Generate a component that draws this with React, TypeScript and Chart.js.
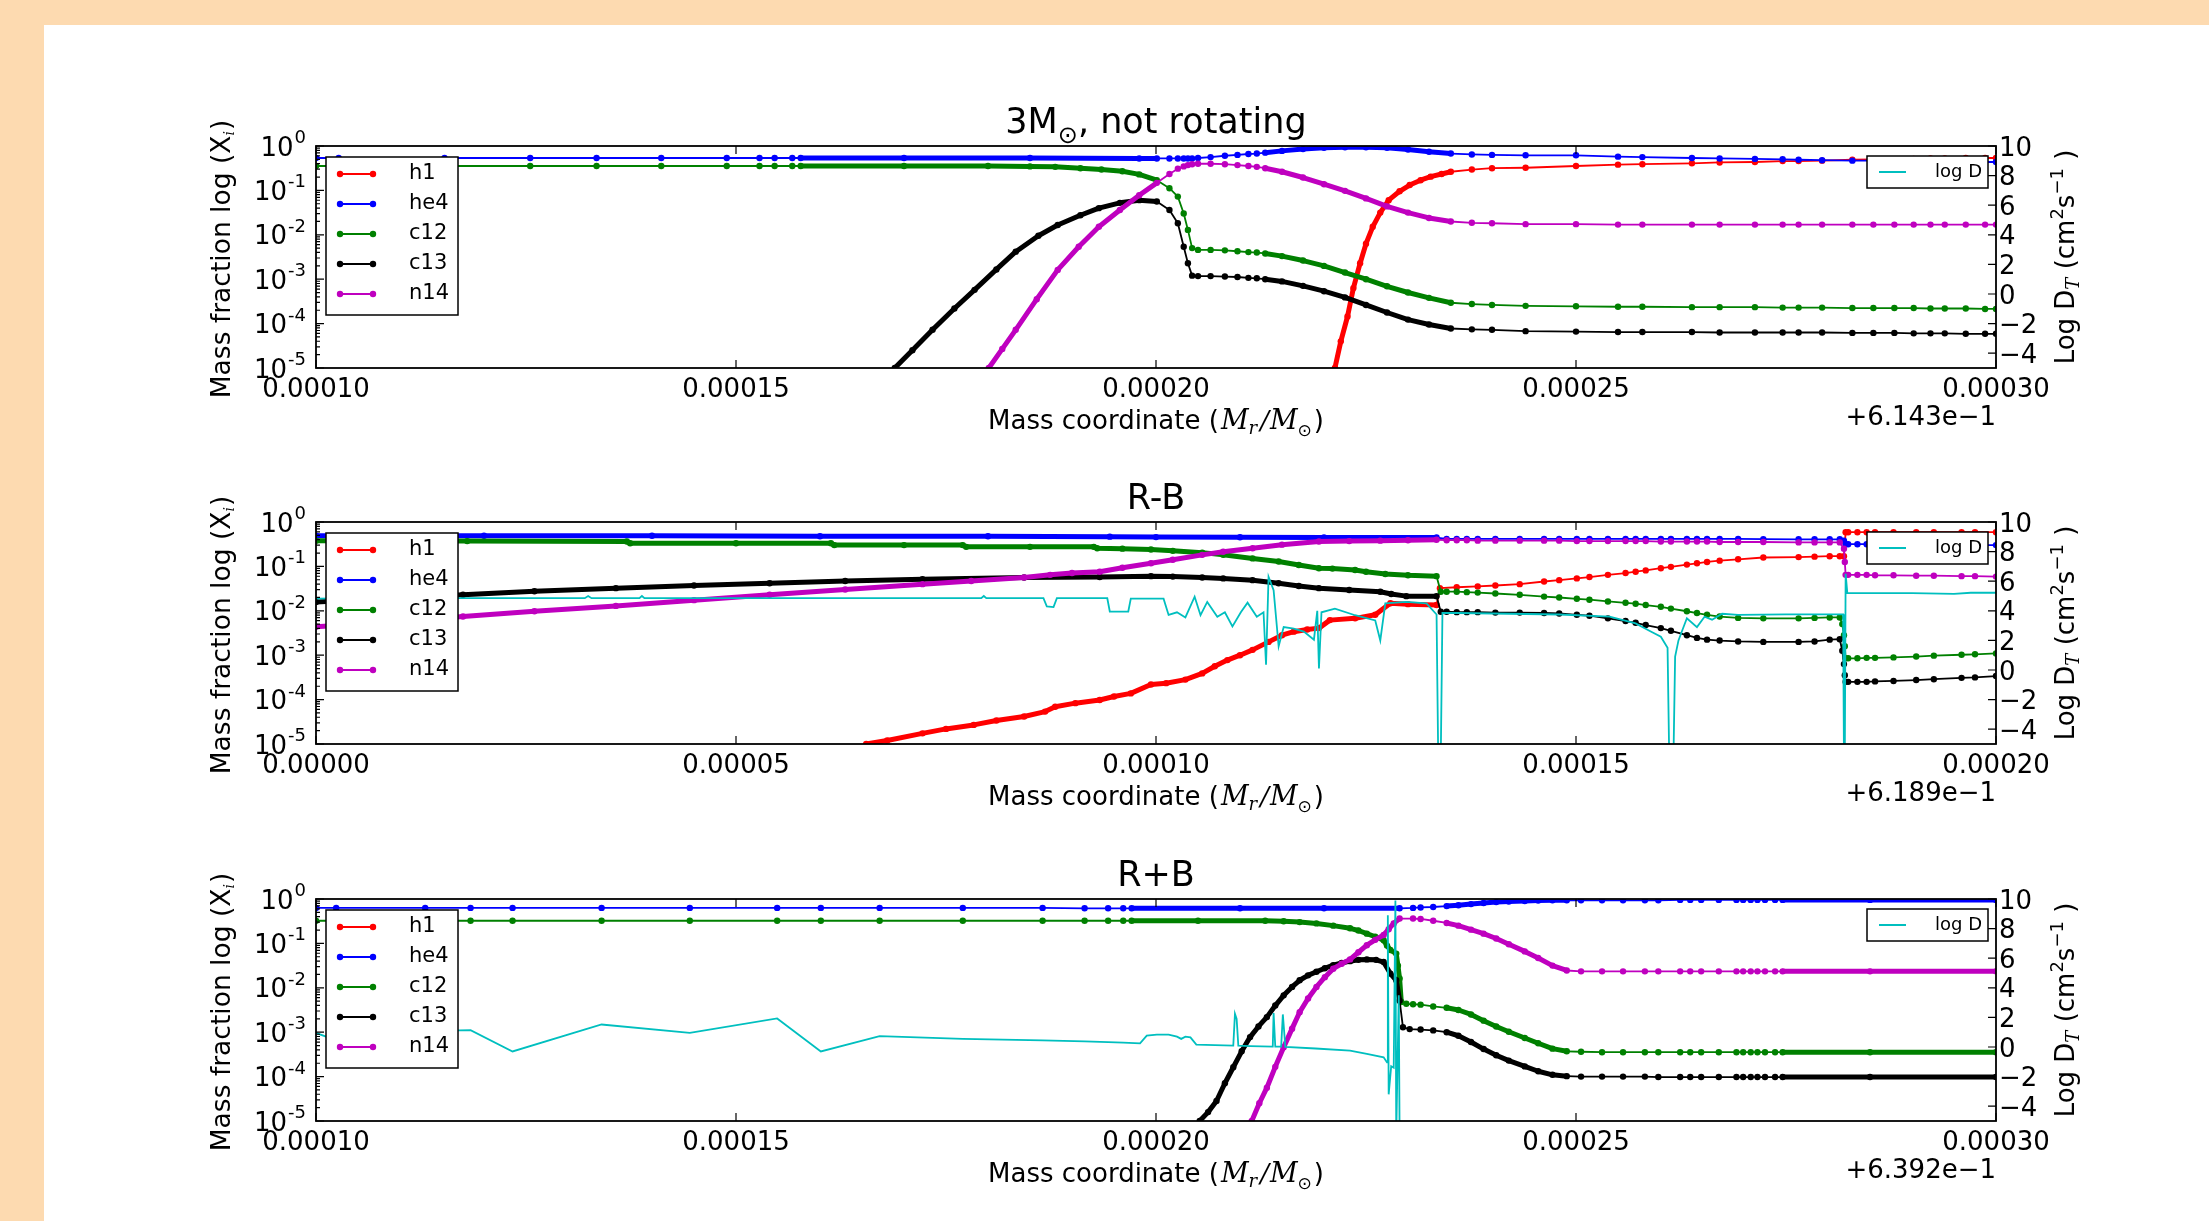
import React, { useEffect, useRef } from "react";
import { Chart, registerables } from "chart.js";

Chart.register(...registerables);

type P = [number, number];

// ---------- labels / text ----------
const SPECIES = ["h1", "he4", "c12", "c13", "n14"];
const SPECIES_COLORS = ["#ff0000", "#0000ff", "#008000", "#000000", "#bf00bf"];
const LOGD_LABEL = "log D";
const LOGD_COLOR = "#00bfbf";
const TITLES: string[][] = [["3M", "\u2299", ", not rotating"], ["R-B"], ["R+B"]];
const OFFSETS = ["+6.143e\u22121", "+6.189e\u22121", "+6.392e\u22121"];
const X_TICKS_1 = [100, 150, 200, 250, 300];
const X_TICK_LABELS_1 = ["0.00010", "0.00015", "0.00020", "0.00025", "0.00030"];
const X_TICKS_2 = [0, 50, 100, 150, 200];
const X_TICK_LABELS_2 = ["0.00000", "0.00005", "0.00010", "0.00015", "0.00020"];
const X_TICKS_3 = [100, 150, 200, 250, 300];
const X_TICK_LABELS_3 = ["0.00010", "0.00015", "0.00020", "0.00025", "0.00030"];
const LEFT_TICK_EXPS = [0, -1, -2, -3, -4, -5];
const RIGHT_TICKS = [-4, -2, 0, 2, 4, 6, 8, 10];

// ---------- data: x in 1e-6 Msun (offset), y = log10 mass fraction ----------
const P1_H1: P[] = [[221.3,-5],[222,-4.4],[222.8,-3.84],[223.5,-3.2],[224.3,-2.64],[225,-2.2],[225.8,-1.82],[226.7,-1.5],[227.7,-1.22],[229,-1.02],[230.2,-0.88],[231.5,-0.77],[232.7,-0.69],[234,-0.63],[235.1,-0.58],[237.6,-0.53],[240,-0.5],[244,-0.49],[250,-0.45],[255,-0.42],[257.9,-0.41],[263.8,-0.39],[267.1,-0.37],[271.3,-0.36],[274.6,-0.34],[276.5,-0.34],[279.3,-0.33],[282.9,-0.31],[285.4,-0.3],[287.9,-0.3],[290.2,-0.29],[292.2,-0.28],[293.9,-0.28],[296.4,-0.27],[298.7,-0.27],[300,-0.27]];
const P1_HE4: P[] = [[100,-0.27],[102.7,-0.27],[115.3,-0.27],[125.5,-0.27],[133.4,-0.27],[141.1,-0.27],[148.9,-0.27],[152.8,-0.27],[154.6,-0.27],[156.7,-0.27],[157.7,-0.27],[170,-0.27],[185,-0.27],[198,-0.28],[200.1,-0.28],[201.6,-0.28],[202.6,-0.28],[203.3,-0.28],[203.8,-0.28],[204.3,-0.28],[205,-0.27],[206.5,-0.25],[208.2,-0.22],[209.7,-0.2],[211,-0.18],[212,-0.17],[213,-0.15],[215,-0.11],[217.5,-0.07],[220,-0.04],[222.5,-0.03],[225,-0.03],[227.5,-0.04],[230,-0.08],[232.5,-0.13],[235.1,-0.17],[237.6,-0.19],[240,-0.2],[244,-0.21],[250,-0.21],[255,-0.24],[257.9,-0.25],[263.8,-0.27],[267.1,-0.28],[271.3,-0.29],[274.6,-0.3],[276.5,-0.31],[279.3,-0.32],[282.9,-0.33],[285.4,-0.33],[287.9,-0.34],[290.2,-0.34],[292.2,-0.35],[293.9,-0.35],[296.4,-0.36],[298.7,-0.36],[300,-0.36]];
const P1_C12: P[] = [[100,-0.45],[102.7,-0.45],[115.3,-0.45],[125.5,-0.45],[133.4,-0.45],[141.1,-0.45],[148.9,-0.45],[152.8,-0.45],[154.6,-0.45],[156.7,-0.45],[157.7,-0.45],[170,-0.45],[180,-0.45],[185,-0.46],[188,-0.47],[191,-0.5],[193.5,-0.53],[196,-0.57],[198,-0.64],[200.1,-0.77],[201.6,-0.95],[202.6,-1.14],[203.3,-1.52],[203.8,-1.89],[204.3,-2.3],[205,-2.34],[206.5,-2.34],[208.2,-2.35],[209.7,-2.37],[211,-2.39],[212,-2.4],[213,-2.42],[215,-2.48],[217.5,-2.58],[220,-2.7],[222.5,-2.85],[225,-3.0],[227.5,-3.16],[230,-3.3],[232.5,-3.42],[235.1,-3.53],[237.6,-3.56],[240,-3.58],[244,-3.6],[250,-3.61],[255,-3.62],[257.9,-3.62],[263.8,-3.63],[267.1,-3.63],[271.3,-3.63],[274.6,-3.64],[276.5,-3.64],[279.3,-3.64],[282.9,-3.65],[285.4,-3.65],[287.9,-3.65],[290.2,-3.65],[292.2,-3.66],[293.9,-3.66],[296.4,-3.66],[298.7,-3.67],[300,-3.67]];
const P1_C13: P[] = [[168.9,-5],[171,-4.6],[173.4,-4.14],[176,-3.66],[178.4,-3.24],[181,-2.78],[183.3,-2.38],[186,-2.02],[188.3,-1.78],[191,-1.56],[193.2,-1.4],[195.7,-1.28],[198,-1.22],[200.1,-1.25],[201.6,-1.44],[202.6,-1.74],[203.3,-2.27],[203.8,-2.64],[204.3,-2.92],[205,-2.93],[206.5,-2.93],[208.2,-2.94],[209.7,-2.95],[211,-2.97],[212,-2.98],[213,-3.0],[215,-3.05],[217.5,-3.15],[220,-3.27],[222.5,-3.41],[225,-3.58],[227.5,-3.75],[230,-3.91],[232.5,-4.02],[235.1,-4.11],[237.6,-4.13],[240,-4.14],[244,-4.17],[250,-4.18],[255,-4.19],[257.9,-4.19],[263.8,-4.19],[267.1,-4.2],[271.3,-4.2],[274.6,-4.2],[276.5,-4.2],[279.3,-4.2],[282.9,-4.21],[285.4,-4.21],[287.9,-4.21],[290.2,-4.22],[292.2,-4.22],[293.9,-4.22],[296.4,-4.23],[298.7,-4.23],[300,-4.23]];
const P1_N14: P[] = [[180.1,-5],[181.7,-4.57],[183.3,-4.14],[185.8,-3.45],[188.3,-2.79],[190.8,-2.27],[193.2,-1.82],[195.7,-1.44],[198,-1.11],[200.1,-0.83],[201.6,-0.63],[202.6,-0.51],[203.3,-0.46],[203.8,-0.43],[204.3,-0.41],[205,-0.4],[206.5,-0.4],[208.2,-0.41],[209.7,-0.43],[211,-0.45],[212,-0.47],[213,-0.5],[215,-0.58],[217.5,-0.71],[220,-0.86],[222.5,-1.01],[225,-1.18],[227.5,-1.36],[230,-1.5],[232.5,-1.62],[235.1,-1.7],[237.6,-1.73],[240,-1.74],[244,-1.76],[250,-1.76],[255,-1.77],[257.9,-1.77],[263.8,-1.77],[267.1,-1.77],[271.3,-1.77],[274.6,-1.77],[276.5,-1.77],[279.3,-1.77],[282.9,-1.77],[285.4,-1.77],[287.9,-1.77],[290.2,-1.77],[292.2,-1.77],[293.9,-1.77],[296.4,-1.77],[298.7,-1.77],[300,-1.77]];
const P1_LOGD: P[] = [];

const P2_H1: P[] = [[65.5,-5.0],[68,-4.92],[72.2,-4.76],[75,-4.66],[78.3,-4.57],[81,-4.47],[84.3,-4.38],[86.8,-4.27],[88,-4.16],[90.4,-4.08],[93.3,-4.01],[95,-3.93],[97,-3.86],[99.4,-3.66],[101.2,-3.63],[103.5,-3.55],[105.5,-3.41],[107,-3.25],[108.5,-3.11],[110,-3.0],[111.5,-2.88],[113.4,-2.7],[115,-2.55],[116.4,-2.47],[118,-2.42],[119.4,-2.39],[120.7,-2.21],[123.7,-2.17],[126.1,-2.09],[127.9,-1.83],[130,-1.85],[133.4,-1.87],[133.8,-1.49],[135.8,-1.47],[138.3,-1.45],[140.4,-1.43],[143.3,-1.4],[146.2,-1.34],[148,-1.31],[150.1,-1.27],[151.6,-1.24],[153.8,-1.19],[155.9,-1.15],[157.1,-1.12],[158.3,-1.09],[160.1,-1.04],[161.3,-1.01],[163.2,-0.96],[164.4,-0.93],[165.6,-0.9],[167.1,-0.87],[169.3,-0.84],[172.3,-0.8],[176.5,-0.79],[178.4,-0.78],[180.2,-0.77],[181.4,-0.77],[181.9,-0.77],[182.1,-0.23],[182.4,-0.23],[183.5,-0.23],[184.6,-0.23],[185.6,-0.23],[187.8,-0.23],[190.5,-0.23],[192.6,-0.23],[195.9,-0.23],[197.5,-0.23],[200,-0.23]];
const P2_HE4: P[] = [[0,-0.31],[20,-0.31],[40,-0.31],[60,-0.32],[80,-0.32],[94.5,-0.33],[100,-0.34],[110,-0.345],[120,-0.35],[133.4,-0.35],[134.6,-0.38],[135.8,-0.38],[137,-0.38],[138.3,-0.38],[140.4,-0.38],[143.3,-0.38],[146.2,-0.38],[148,-0.38],[150.1,-0.38],[151.6,-0.38],[153.8,-0.38],[155.9,-0.38],[157.1,-0.38],[158.3,-0.38],[160.1,-0.38],[161.3,-0.38],[163.2,-0.38],[164.4,-0.38],[165.6,-0.38],[167.1,-0.38],[169.3,-0.38],[172.3,-0.385],[176.5,-0.39],[178.4,-0.39],[180.2,-0.39],[181.4,-0.39],[181.9,-0.42],[182.1,-0.5],[182.4,-0.5],[183.5,-0.5],[184.6,-0.5],[185.6,-0.5],[187.8,-0.51],[190.5,-0.51],[192.6,-0.51],[195.9,-0.52],[197.5,-0.52],[200,-0.52]];
const P2_C12: P[] = [[0,-0.42],[18,-0.43],[37,-0.44],[37.4,-0.48],[50,-0.48],[61.3,-0.48],[61.7,-0.52],[70,-0.52],[77,-0.52],[77.4,-0.56],[85,-0.56],[92.6,-0.56],[93,-0.59],[96,-0.6],[99.4,-0.62],[102,-0.65],[105.5,-0.69],[108,-0.74],[111.5,-0.82],[114.6,-0.89],[117,-0.97],[119.4,-1.04],[121,-1.05],[123.7,-1.08],[125,-1.12],[127.3,-1.17],[130,-1.2],[133.4,-1.22],[133.9,-1.57],[134.6,-1.57],[135.8,-1.57],[137,-1.58],[138.3,-1.59],[140.4,-1.61],[143.3,-1.64],[146.2,-1.68],[148,-1.7],[150.1,-1.73],[151.6,-1.75],[153.8,-1.79],[155.9,-1.82],[157.1,-1.84],[158.3,-1.87],[160.1,-1.91],[161.3,-1.95],[163.2,-2.01],[164.4,-2.05],[165.6,-2.09],[167.1,-2.13],[169.3,-2.16],[172.3,-2.17],[176.5,-2.17],[178.4,-2.16],[180.2,-2.15],[181.4,-2.15],[181.7,-2.3],[181.9,-2.55],[182.0,-2.8],[182.1,-3.07],[182.4,-3.07],[183.5,-3.07],[184.6,-3.06],[185.6,-3.06],[187.8,-3.05],[190.5,-3.03],[192.6,-3.01],[195.9,-2.99],[197.5,-2.98],[200,-2.96]];
const P2_C13: P[] = [[0,-1.8],[9,-1.72],[17.5,-1.64],[26,-1.56],[35.7,-1.49],[45,-1.43],[54,-1.38],[63,-1.33],[72.2,-1.29],[84.3,-1.25],[93.3,-1.24],[99.4,-1.22],[102,-1.23],[105.5,-1.25],[108,-1.27],[111.5,-1.31],[114.6,-1.38],[117,-1.44],[119.4,-1.49],[123,-1.53],[126.7,-1.57],[128,-1.62],[129.8,-1.67],[133.4,-1.67],[133.9,-2.02],[134.6,-2.02],[135.8,-2.03],[137,-2.03],[138.3,-2.03],[140.4,-2.04],[143.3,-2.04],[146.2,-2.05],[148,-2.06],[150.1,-2.09],[151.6,-2.11],[153.8,-2.17],[155.9,-2.23],[157.1,-2.27],[158.3,-2.32],[160.1,-2.39],[161.3,-2.45],[163.2,-2.55],[164.4,-2.61],[165.6,-2.65],[167.1,-2.67],[169.3,-2.69],[172.3,-2.7],[176.5,-2.7],[178.4,-2.69],[180.2,-2.65],[181.4,-2.64],[181.7,-2.9],[181.9,-3.2],[182.0,-3.45],[182.1,-3.6],[182.4,-3.6],[183.5,-3.6],[184.6,-3.6],[185.6,-3.59],[187.8,-3.58],[190.5,-3.56],[192.6,-3.54],[195.9,-3.51],[197.5,-3.5],[200,-3.47]];
const P2_N14: P[] = [[0,-2.36],[9,-2.25],[17.5,-2.13],[26,-2.01],[35.7,-1.89],[45,-1.76],[54,-1.64],[63,-1.52],[72.2,-1.4],[78,-1.33],[84.3,-1.25],[87.4,-1.19],[90,-1.15],[93.3,-1.12],[96,-1.03],[99.4,-0.93],[102,-0.85],[105.5,-0.74],[108,-0.67],[111.5,-0.59],[115,-0.51],[119.4,-0.44],[123,-0.43],[126.7,-0.42],[130,-0.41],[133.4,-0.4],[134.6,-0.41],[135.8,-0.41],[137,-0.41],[138.3,-0.42],[140.4,-0.42],[143.3,-0.42],[146.2,-0.42],[148,-0.42],[150.1,-0.43],[151.6,-0.43],[153.8,-0.43],[155.9,-0.43],[157.1,-0.43],[158.3,-0.43],[160.1,-0.44],[161.3,-0.44],[163.2,-0.44],[164.4,-0.44],[165.6,-0.44],[167.1,-0.45],[169.3,-0.45],[172.3,-0.45],[176.5,-0.46],[178.4,-0.46],[180.2,-0.46],[181.4,-0.46],[181.9,-0.6],[182.0,-0.9],[182.1,-1.19],[182.4,-1.19],[183.5,-1.19],[184.6,-1.19],[185.6,-1.2],[187.8,-1.2],[190.5,-1.21],[192.6,-1.21],[195.9,-1.22],[197.5,-1.22],[200,-1.23]];
// log D (right axis, log10 cm^2/s)
const P2_LOGD: P[] = [[0,4.82],[6.2,4.85],[6.6,5.05],[7.1,4.85],[32,4.85],[32.4,5.0],[32.8,4.85],[38.5,4.85],[38.8,5.0],[39.1,4.85],[79.2,4.85],[79.5,5.0],[79.8,4.85],[86.6,4.85],[87,4.3],[87.8,4.25],[88.2,4.85],[94.2,4.85],[94.5,3.95],[96.7,3.95],[97,4.82],[100.9,4.82],[101.5,3.72],[102.5,3.9],[103.5,3.55],[104.6,4.95],[105.3,3.7],[106.1,4.6],[107.3,3.6],[108.2,3.9],[109.1,2.95],[110.1,3.9],[110.9,4.55],[112,3.6],[112.8,3.9],[113.1,0.35],[113.4,6.3],[114,5.4],[114.6,1.6],[115.2,2.9],[116.4,2.8],[117.6,2.6],[118.8,2.05],[119.2,4.0],[119.4,0.1],[119.7,3.9],[121.3,4.15],[123.7,3.7],[126.1,3.35],[126.7,2.0],[127.3,4.5],[129.8,4.6],[132.2,4.5],[133.4,3.75],[133.6,-6],[133.9,-6],[134.1,3.85],[136,3.85],[142,3.8],[148,3.75],[154,3.6],[157.1,3.15],[158.9,2.6],[160.1,2.25],[160.9,1.5],[161.1,-6],[161.6,-6],[161.8,0.9],[162.2,2.0],[162.6,2.6],[163.2,3.5],[164.4,2.9],[165.3,3.6],[166.2,3.4],[167.4,3.8],[169.3,3.72],[175,3.76],[181.8,3.76],[181.9,-6],[182.0,-6],[182.1,6.5],[182.3,5.2],[190,5.2],[195,5.15],[197,5.22],[200,5.22]];

const P3_H1: P[] = [];
const P3_HE4: P[] = [[100,-0.2],[102.4,-0.2],[113,-0.2],[118.4,-0.2],[123.4,-0.2],[134,-0.2],[144.5,-0.2],[154.9,-0.2],[160.1,-0.2],[167.1,-0.2],[177,-0.2],[186.5,-0.2],[191.5,-0.21],[194.3,-0.21],[196.1,-0.21],[197.1,-0.21],[210,-0.21],[220,-0.21],[229,-0.21],[230.6,-0.2],[231.5,-0.19],[233,-0.18],[234.6,-0.16],[236,-0.14],[237.5,-0.115],[239,-0.09],[240.5,-0.07],[242,-0.055],[243.9,-0.045],[245.5,-0.035],[247.2,-0.03],[248.9,-0.03],[250.6,-0.03],[253.1,-0.03],[255.6,-0.03],[258.2,-0.03],[259.8,-0.03],[262.4,-0.02],[263.6,-0.02],[264.9,-0.02],[267,-0.02],[269.1,-0.02],[269.9,-0.02],[270.8,-0.02],[271.6,-0.02],[272.5,-0.02],[273.7,-0.02],[274.6,-0.02],[285,-0.02],[300,-0.02]];
const P3_C12: P[] = [[100,-0.49],[102.4,-0.49],[113,-0.49],[118.4,-0.49],[123.4,-0.49],[134,-0.49],[144.5,-0.49],[154.9,-0.49],[160.1,-0.49],[167.1,-0.49],[177,-0.49],[186.5,-0.49],[191.5,-0.49],[194.3,-0.49],[196.1,-0.49],[197.1,-0.49],[205,-0.49],[213,-0.49],[215.2,-0.5],[217.1,-0.52],[219.1,-0.55],[221.1,-0.6],[223.1,-0.66],[224.1,-0.71],[225.1,-0.78],[226.1,-0.85],[227.1,-0.93],[227.5,-1.05],[227.9,-1.15],[228.6,-1.23],[228.8,-1.5],[229,-1.79],[229.2,-2.32],[229.8,-2.36],[230.6,-2.37],[231.5,-2.38],[233,-2.42],[234.6,-2.45],[236,-2.5],[237.5,-2.6],[239,-2.74],[240.5,-2.87],[242,-2.99],[243.9,-3.13],[245.5,-3.25],[247.2,-3.37],[248.9,-3.43],[250.6,-3.44],[253.1,-3.45],[255.6,-3.45],[258.2,-3.45],[259.8,-3.45],[262.4,-3.45],[263.6,-3.45],[264.9,-3.45],[267,-3.45],[269.1,-3.45],[269.9,-3.45],[270.8,-3.45],[271.6,-3.45],[272.5,-3.45],[273.7,-3.45],[274.6,-3.45],[285,-3.45],[300,-3.45]];
const P3_C13: P[] = [[205.2,-5],[206.2,-4.8],[207.2,-4.55],[208.2,-4.15],[209.2,-3.79],[210.2,-3.43],[211.2,-3.11],[212.2,-2.87],[213.2,-2.66],[214.2,-2.4],[215.2,-2.17],[216.2,-1.98],[217.1,-1.83],[218.1,-1.72],[219.1,-1.64],[220.1,-1.56],[221.1,-1.49],[222.1,-1.44],[223.1,-1.4],[224.1,-1.37],[225.1,-1.36],[226.2,-1.37],[227.1,-1.42],[227.9,-1.68],[228.6,-1.83],[229,-2.29],[229.4,-2.89],[230.2,-2.93],[231.5,-2.94],[233,-2.96],[234.6,-3.0],[236,-3.08],[237.5,-3.22],[239,-3.38],[240.5,-3.52],[242,-3.64],[243.9,-3.77],[245.5,-3.88],[247.2,-3.96],[248.9,-3.99],[250.6,-4.0],[253.1,-4.0],[255.6,-4.0],[258.2,-4.0],[259.8,-4.01],[262.4,-4.01],[263.6,-4.01],[264.9,-4.01],[267,-4.01],[269.1,-4.01],[269.9,-4.01],[270.8,-4.01],[271.6,-4.01],[272.5,-4.01],[273.7,-4.01],[274.6,-4.01],[285,-4.01],[300,-4.01]];
const P3_N14: P[] = [[211.4,-5],[212.3,-4.6],[213.2,-4.25],[214.2,-3.78],[215.2,-3.34],[216.2,-2.92],[217.1,-2.55],[218.1,-2.24],[219.1,-1.98],[220.1,-1.76],[221.1,-1.57],[222.1,-1.46],[223.1,-1.36],[224.1,-1.2],[225.1,-1.04],[226.1,-0.92],[227.1,-0.81],[227.7,-0.68],[228.3,-0.55],[229,-0.44],[230.6,-0.44],[231.5,-0.45],[233,-0.49],[234.6,-0.54],[236,-0.6],[237.5,-0.69],[239,-0.78],[240.5,-0.89],[242,-1.02],[243.9,-1.18],[245.5,-1.33],[247.2,-1.5],[248.9,-1.61],[250.6,-1.63],[253.1,-1.63],[255.6,-1.63],[258.2,-1.63],[259.8,-1.63],[262.4,-1.63],[263.6,-1.63],[264.9,-1.63],[267,-1.63],[269.1,-1.63],[269.9,-1.63],[270.8,-1.63],[271.6,-1.63],[272.5,-1.63],[273.7,-1.63],[274.6,-1.63],[285,-1.63],[300,-1.63]];
const P3_LOGD: P[] = [[100,0.95],[102.4,0.45],[113,1.07],[118.4,1.14],[123.4,-0.3],[134,1.52],[144.5,0.95],[154.9,1.93],[160.1,-0.3],[167.1,0.73],[177,0.55],[186.5,0.45],[191.5,0.38],[194.3,0.33],[196.1,0.3],[198.1,0.25],[198.9,0.77],[200.1,0.84],[201.5,0.84],[202.5,0.7],[203,0.55],[203.5,0.7],[204.1,0.65],[204.8,0.16],[209.2,0.09],[209.4,2.24],[209.6,1.9],[209.8,0.09],[211.2,0.06],[213.9,0.03],[214.0,2.3],[214.2,0.02],[214.9,0.02],[215.1,2.2],[215.4,0.0],[219,-0.1],[223.1,-0.25],[225.1,-0.47],[227.1,-0.7],[227.5,-1.04],[227.6,8.9],[227.7,-3.2],[228.0,-1.3],[228.3,-1.4],[228.5,9.9],[228.6,-6],[228.9,3.5],[229.0,-6]];

// mesh-refined (densely sampled) x ranges per panel
const P1_DENSE: P[] = [[157.7, 200.1], [213, 235.1]];
const P2_DENSE: P[] = [[0, 133.5]];
const P3_DENSE: P[] = [[197.1, 229.1], [234.6, 248.9], [274.6, 300]];

// ---------- layout ----------
const W = 2209, H = 1221;
const PLOT_L = 316, PLOT_R = 1996, PLOT_H = 222;
const SANS = '"DejaVu Sans", "Liberation Sans", sans-serif';
const SERIF = '"DejaVu Serif", "Liberation Serif", serif';
const font = (px: number, fam = SANS, style = "") => `${style} ${px}px ${fam}`.trim();

type Cfg = {
  top: number; xMin: number; xMax: number; xTicks: number[]; xTickLabels: string[];
  offset: string; title: string[]; series: P[][]; logD: P[]; dense: P[];
};
const PANELS: Cfg[] = [
  { top: 146, xMin: 100, xMax: 300, xTicks: X_TICKS_1, xTickLabels: X_TICK_LABELS_1, offset: OFFSETS[0], title: TITLES[0], series: [P1_H1, P1_HE4, P1_C12, P1_C13, P1_N14], logD: P1_LOGD, dense: P1_DENSE },
  { top: 522, xMin: 0, xMax: 200, xTicks: X_TICKS_2, xTickLabels: X_TICK_LABELS_2, offset: OFFSETS[1], title: TITLES[1], series: [P2_H1, P2_HE4, P2_C12, P2_C13, P2_N14], logD: P2_LOGD, dense: P2_DENSE },
  { top: 899, xMin: 100, xMax: 300, xTicks: X_TICKS_3, xTickLabels: X_TICK_LABELS_3, offset: OFFSETS[2], title: TITLES[2], series: [P3_H1, P3_HE4, P3_C12, P3_C13, P3_N14], logD: P3_LOGD, dense: P3_DENSE },
];

type Run = { t: string; f: string; dy?: number; gap?: number };
function runsWidth(ctx: CanvasRenderingContext2D, runs: Run[]) {
  let w = 0;
  for (const r of runs) { ctx.font = r.f; w += ctx.measureText(r.t).width + (r.gap || 0); }
  return w;
}
function drawRuns(ctx: CanvasRenderingContext2D, runs: Run[], x: number, y: number, align: "left" | "center" | "right") {
  const w = runsWidth(ctx, runs);
  let cx = align === "left" ? x : align === "center" ? x - w / 2 : x - w;
  ctx.textAlign = "left";
  ctx.textBaseline = "alphabetic";
  for (const r of runs) {
    ctx.font = r.f;
    ctx.fillText(r.t, cx, y + (r.dy || 0));
    cx += ctx.measureText(r.t).width + (r.gap || 0);
  }
}

function decorPlugin(cfg: Cfg, idx: number) {
  return {
    id: "decor" + idx,
    afterDraw(chart: any) {
      const ctx: CanvasRenderingContext2D = chart.ctx;
      const { left, right, top, bottom } = chart.chartArea;
      const xs = chart.scales.x, ys = chart.scales.y, yr = chart.scales.y1;
      ctx.save();
      ctx.fillStyle = "#000";
      ctx.strokeStyle = "#000";
      // ticks (inward)
      ctx.lineWidth = 1.2;
      ctx.beginPath();
      cfg.xTicks.forEach((v) => {
        const px = xs.getPixelForValue(v);
        ctx.moveTo(px, bottom); ctx.lineTo(px, bottom - 8);
        ctx.moveTo(px, top); ctx.lineTo(px, top + 8);
      });
      LEFT_TICK_EXPS.forEach((e) => {
        const py = ys.getPixelForValue(Math.pow(10, e));
        ctx.moveTo(left, py); ctx.lineTo(left + 8, py);
      });
      for (let e = -5; e < 0; e++) {
        for (let m = 2; m <= 9; m++) {
          const py = ys.getPixelForValue(m * Math.pow(10, e));
          ctx.moveTo(left, py); ctx.lineTo(left + 4, py);
        }
      }
      RIGHT_TICKS.forEach((v) => {
        const py = yr.getPixelForValue(v);
        ctx.moveTo(right, py); ctx.lineTo(right - 8, py);
      });
      ctx.stroke();
      // frame
      ctx.lineWidth = 1.8;
      ctx.strokeRect(left, top, right - left, bottom - top);

      // x tick labels
      ctx.font = font(26);
      ctx.textAlign = "center";
      ctx.textBaseline = "alphabetic";
      cfg.xTicks.forEach((v, i) => {
        ctx.fillText(cfg.xTickLabels[i], xs.getPixelForValue(v), bottom + 28.5);
      });
      // left tick labels 10^e
      LEFT_TICK_EXPS.forEach((e) => {
        const py = ys.getPixelForValue(Math.pow(10, e));
        ctx.font = font(26);
        const wb = ctx.measureText("10").width;
        ctx.font = font(18);
        const es = String(e);
        const we = ctx.measureText(es).width;
        const xr = left - 10;
        ctx.textAlign = "left";
        ctx.font = font(26);
        ctx.fillText("10", xr - we - wb - 1, py + 9.5);
        ctx.font = font(18);
        ctx.fillText(es, xr - we, py - 3);
      });
      // right tick labels
      ctx.font = font(26);
      ctx.textAlign = "left";
      RIGHT_TICKS.forEach((v) => {
        const py = yr.getPixelForValue(v);
        const s = v < 0 ? "\u2212" + Math.abs(v) : String(v);
        ctx.fillText(s, right + 3, py + 9.5);
      });
      // offset text
      ctx.font = font(26);
      ctx.textAlign = "right";
      ctx.fillText(cfg.offset, right, top + 279);

      const cxp = (left + right) / 2;
      // title
      const tRuns: Run[] = cfg.title.length === 3
        ? [{ t: cfg.title[0], f: font(35) }, { t: cfg.title[1], f: font(24), dy: 10 }, { t: cfg.title[2], f: font(35) }]
        : [{ t: cfg.title[0], f: font(35) }];
      drawRuns(ctx, tRuns, cxp, top - 13, "center");
      // x label
      drawRuns(ctx, [
        { t: "Mass coordinate (", f: font(26), gap: 2 },
        { t: "M", f: font(27, SERIF, "italic") },
        { t: "r", f: font(18, SERIF, "italic"), dy: 5, gap: 3 },
        { t: "/", f: font(26, SERIF, "italic"), gap: 1 },
        { t: "M", f: font(27, SERIF, "italic") },
        { t: "\u2299", f: font(17), dy: 7, gap: 2 },
        { t: ")", f: font(26) },
      ], cxp, top + 283, "center");
      // left y label (rotated)
      ctx.save();
      ctx.translate(230, top + 113);
      ctx.rotate(-Math.PI / 2);
      drawRuns(ctx, [
        { t: "Mass fraction log (X", f: font(26.5) },
        { t: "i", f: font(14, SERIF, "italic"), dy: 4, gap: 1 },
        { t: ")", f: font(26.5) },
      ], 0, 0, "center");
      ctx.restore();
      // right y label (rotated)
      ctx.save();
      ctx.translate(2074, top + 111);
      ctx.rotate(-Math.PI / 2);
      drawRuns(ctx, [
        { t: "Log D", f: font(26) },
        { t: "T", f: font(18, SERIF, "italic"), dy: 5 },
        { t: " (cm", f: font(26) },
        { t: "2", f: font(18), dy: -11 },
        { t: "s", f: font(26) },
        { t: "\u22121", f: font(18), dy: -11 },
        { t: " )", f: font(26) },
      ], 0, 0, "center");
      ctx.restore();

      // left legend
      const lx = left + 10, ly = top + 11, lw = 132, lh = 158;
      ctx.fillStyle = "#fff";
      ctx.fillRect(lx, ly, lw, lh);
      ctx.lineWidth = 1.5;
      ctx.strokeStyle = "#000";
      ctx.strokeRect(lx, ly, lw, lh);
      SPECIES.forEach((name, i) => {
        const ey = top + 28 + i * 30;
        const col = SPECIES_COLORS[i];
        ctx.strokeStyle = col;
        ctx.fillStyle = col;
        ctx.lineWidth = 2;
        ctx.beginPath();
        ctx.moveTo(left + 24, ey); ctx.lineTo(left + 57, ey);
        ctx.stroke();
        [left + 24, left + 57].forEach((mx) => {
          ctx.beginPath(); ctx.arc(mx, ey, 3.2, 0, Math.PI * 2); ctx.fill();
        });
        ctx.fillStyle = "#000";
        ctx.font = font(21);
        ctx.textAlign = "left";
        ctx.textBaseline = "middle";
        ctx.fillText(name, left + 93, ey);
      });
      // right legend
      const rx = 1867, ry = top + 10, rw = 121, rh = 32;
      ctx.fillStyle = "#fff";
      ctx.fillRect(rx, ry, rw, rh);
      ctx.strokeStyle = "#000";
      ctx.lineWidth = 1.5;
      ctx.strokeRect(rx, ry, rw, rh);
      ctx.strokeStyle = LOGD_COLOR;
      ctx.lineWidth = 2;
      ctx.beginPath();
      ctx.moveTo(1879, top + 26); ctx.lineTo(1906, top + 26);
      ctx.stroke();
      ctx.fillStyle = "#000";
      ctx.font = font(18);
      ctx.textAlign = "left";
      ctx.textBaseline = "middle";
      ctx.fillText(LOGD_LABEL, 1935, top + 26);
      ctx.restore();
    },
  };
}

function inZones(zones: P[], v: number) {
  return zones.some(([a, b]) => v >= a && v <= b);
}

function buildChart(canvas: HTMLCanvasElement, cfg: Cfg, idx: number) {
  const datasets: any[] = cfg.series.map((pts, i) => {
    const data = pts.map(([x, l]) => ({ x, y: Math.pow(10, l) }));
    const col = SPECIES_COLORS[i];
    return {
      label: SPECIES[i],
      data,
      yAxisID: "y",
      borderColor: col,
      backgroundColor: col,
      borderWidth: 1.8,
      borderJoinStyle: "round",
      borderCapStyle: "round",
      pointRadius: 3.2,
      pointBorderWidth: 0,
      pointBackgroundColor: col,
      pointHoverRadius: 3.2,
      order: 10 - i,
      clip: 0,
      segment: {
        borderWidth: (c: any) => {
          const a = data[c.p0DataIndex].x, b = data[c.p1DataIndex].x;
          return inZones(cfg.dense, (a + b) / 2) ? 5 : 1.8;
        },
      },
    };
  });
  datasets.push({
    label: LOGD_LABEL,
    data: cfg.logD.map(([x, d]) => ({ x, y: d })),
    yAxisID: "y1",
    borderColor: LOGD_COLOR,
    backgroundColor: LOGD_COLOR,
    borderWidth: 1.8,
    pointRadius: 0,
    order: 1,
    clip: 0,
  });
  return new Chart(canvas, {
    type: "line",
    data: { datasets },
    options: {
      responsive: false,
      maintainAspectRatio: false,
      animation: false,
      devicePixelRatio: 1,
      events: [],
      layout: { padding: { left: PLOT_L, right: W - PLOT_R, top: cfg.top, bottom: H - cfg.top - PLOT_H } },
      plugins: { legend: { display: false }, tooltip: { enabled: false }, title: { display: false } },
      scales: {
        x: { type: "linear", min: cfg.xMin, max: cfg.xMax, display: false },
        y: { type: "logarithmic", min: 1e-5, max: 1, display: false },
        y1: { type: "linear", min: -5, max: 10, display: false, position: "right" },
      },
    } as any,
    plugins: [decorPlugin(cfg, idx)],
  });
}

export default function App() {
  const r0 = useRef<HTMLCanvasElement>(null);
  const r1 = useRef<HTMLCanvasElement>(null);
  const r2 = useRef<HTMLCanvasElement>(null);
  useEffect(() => {
    const refs = [r0, r1, r2];
    const charts = PANELS.map((p, i) => buildChart(refs[i].current as HTMLCanvasElement, p, i));
    return () => charts.forEach((c) => c.destroy());
  }, []);
  const cs: React.CSSProperties = { position: "absolute", left: 0, top: 0, width: W, height: H };
  return (
    <div style={{ position: "fixed", left: 0, top: 0, width: W, height: H, background: "rgb(253,218,176)", overflow: "hidden" }}>
      <div style={{ position: "absolute", left: 44, top: 25, right: 0, bottom: 0, background: "#fff" }} />
      <canvas ref={r0} width={W} height={H} style={cs} />
      <canvas ref={r1} width={W} height={H} style={cs} />
      <canvas ref={r2} width={W} height={H} style={cs} />
    </div>
  );
}
